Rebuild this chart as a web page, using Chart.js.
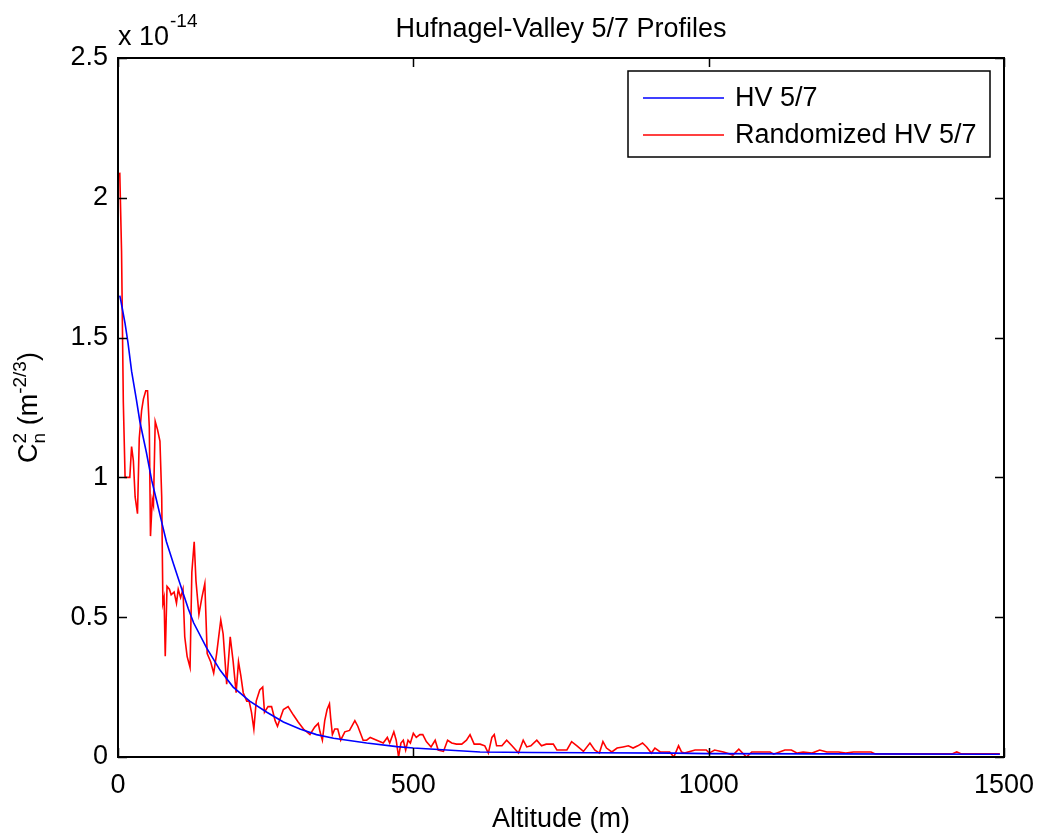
<!DOCTYPE html>
<html>
<head>
<meta charset="utf-8">
<script src="https://cdn.jsdelivr.net/npm/chart.js@4.4.1/dist/chart.umd.min.js"></script>
<style>
  html, body { margin:0; padding:0; background:#fff; }
  #wrap { width:1037px; height:833px; }
</style>
</head>
<body>
<div id="wrap"><canvas id="hvChart"></canvas></div>
<script>
// values, Cn2 in units of 1e-14 m^-2/3
const titleText = 'Hufnagel-Valley 5/7 Profiles';
const seriesNames = ['HV 5/7', 'Randomized HV 5/7'];
const seriesColors = ['#0000ff', '#ff0000'];

const altBlue = [3, 5, 12, 17, 23, 31, 37, 48, 57, 65, 74, 82, 94, 105, 119, 128, 150, 173, 195, 223,
  252, 280, 308, 336, 365, 421, 472, 500, 613, 700, 800, 940, 1000, 1200, 1493];
const cn2Blue = [1.65, 1.63, 1.55, 1.48, 1.38, 1.28, 1.2, 1.09, 0.99, 0.92, 0.84, 0.77, 0.69, 0.62, 0.53, 0.48, 0.39, 0.31, 0.25, 0.2,
  0.16, 0.125, 0.1, 0.08, 0.067, 0.05, 0.037, 0.032, 0.018, 0.016, 0.015, 0.014, 0.012, 0.011, 0.01];

const altRed = [3, 6, 9, 12, 16, 20, 23, 26, 29, 33, 36, 40, 43, 47, 50, 53, 55, 58, 60, 63,
  67, 71, 74, 76, 78, 80, 83, 87, 90, 95, 99, 102, 106, 110, 113, 117, 122, 125, 129, 132,
  137, 142, 147, 151, 157, 162, 167, 174, 178, 184, 190, 195, 200, 204, 208, 212, 218, 222, 226, 230,
  234, 240, 245, 248, 254, 260, 266, 270, 280, 288, 297, 305, 314, 325, 333, 339, 342, 346, 350, 354,
  358, 360, 363, 367, 372, 377, 384, 392, 401, 406, 415, 421, 427, 438, 449, 456, 460, 467, 471, 475,
  479, 483, 487, 491, 495, 500, 505, 511, 516, 522, 530, 537, 542, 551, 558, 565, 573, 582, 590, 596,
  603, 613, 621, 627, 633, 637, 641, 650, 658, 667, 678, 686, 692, 699, 709, 717, 725, 737, 743, 760,
  768, 777, 788, 799, 807, 815, 821, 827, 836, 845, 855, 864, 872, 880, 888, 895, 903, 909, 918, 934,
  941, 949, 954, 959, 977, 996, 1001, 1010, 1025, 1041, 1051, 1064, 1073, 1104, 1110, 1120, 1129, 1140, 1150, 1160,
  1175, 1188, 1200, 1220, 1232, 1245, 1275, 1282, 1320, 1360, 1400, 1412, 1420, 1428, 1460, 1493];
const cn2Red = [2.09, 1.81, 1.27, 1.0, 1.0, 1.0, 1.11, 1.06, 0.93, 0.87, 1.14, 1.24, 1.28, 1.31, 1.31, 1.18, 0.79, 0.92, 0.9, 1.2,
  1.17, 1.13, 0.93, 0.55, 0.57, 0.36, 0.61, 0.6, 0.58, 0.59, 0.55, 0.6, 0.57, 0.6, 0.43, 0.36, 0.32, 0.66, 0.77, 0.63,
  0.51, 0.57, 0.62, 0.37, 0.34, 0.3, 0.37, 0.49, 0.44, 0.26, 0.43, 0.34, 0.23, 0.34, 0.29, 0.23, 0.2, 0.2, 0.16, 0.1,
  0.2, 0.24, 0.25, 0.16, 0.18, 0.18, 0.13, 0.11, 0.17, 0.18, 0.15, 0.125, 0.1, 0.08, 0.107, 0.12, 0.09, 0.06, 0.13, 0.17,
  0.19, 0.14, 0.08, 0.1, 0.1, 0.06, 0.09, 0.095, 0.13, 0.11, 0.06, 0.06, 0.07, 0.06, 0.05, 0.07, 0.05, 0.09, 0.06, 0.0,
  0.05, 0.06, 0.025, 0.06, 0.05, 0.085, 0.07, 0.08, 0.08, 0.055, 0.036, 0.06, 0.025, 0.02, 0.06, 0.05, 0.046, 0.046, 0.06, 0.08,
  0.046, 0.046, 0.04, 0.014, 0.07, 0.08, 0.04, 0.04, 0.06, 0.04, 0.014, 0.06, 0.036, 0.04, 0.06, 0.04, 0.046, 0.046, 0.025, 0.025,
  0.055, 0.04, 0.02, 0.05, 0.025, 0.014, 0.055, 0.032, 0.018, 0.032, 0.036, 0.04, 0.032, 0.04, 0.05, 0.036, 0.014, 0.032, 0.018, 0.018,
  0.0, 0.04, 0.018, 0.014, 0.025, 0.025, 0.014, 0.025, 0.018, 0.007, 0.028, 0.0, 0.018, 0.018, 0.01, 0.018, 0.025, 0.025, 0.014, 0.018,
  0.014, 0.025, 0.018, 0.018, 0.014, 0.018, 0.018, 0.011, 0.011, 0.011, 0.011, 0.011, 0.018, 0.011, 0.011, 0.011];

const xTicks = [0, 500, 1000, 1500];
const yTicks = [0, 0.5, 1, 1.5, 2, 2.5];
const yExponent = '-14';

const FONT = 'Liberation Sans, Arial, sans-serif';
const FS = 27;

function pts(xs, ys){ return xs.map((x,i) => ({x, y: ys[i]})); }

// frame, inward ticks, title, exponent, y label, legend
const matlabAxes = {
  id: 'matlabAxes',
  afterDraw(chart){
    const ctx = chart.ctx, a = chart.chartArea;
    const xs = chart.scales.x, ys = chart.scales.y;
    const tl = 9;
    ctx.save();
    ctx.strokeStyle = '#000';
    ctx.lineWidth = 1.5;
    ctx.beginPath();
    xTicks.forEach(v => {
      const p = Math.round(xs.getPixelForValue(v)) + 0.5;
      ctx.moveTo(p, a.bottom); ctx.lineTo(p, a.bottom - tl);
      ctx.moveTo(p, a.top); ctx.lineTo(p, a.top + tl);
    });
    yTicks.forEach(v => {
      const p = Math.round(ys.getPixelForValue(v)) + 0.5;
      ctx.moveTo(a.left, p); ctx.lineTo(a.left + tl, p);
      ctx.moveTo(a.right, p); ctx.lineTo(a.right - tl, p);
    });
    ctx.stroke();
    ctx.lineWidth = 2;
    ctx.strokeRect(a.left, a.top, a.right - a.left, a.bottom - a.top);

    ctx.fillStyle = '#000';
    // title
    ctx.font = FS + 'px ' + FONT;
    ctx.textAlign = 'center';
    ctx.textBaseline = 'alphabetic';
    ctx.fillText(titleText, (a.left + a.right) / 2, 37);
    // x 10^-14
    ctx.textAlign = 'left';
    ctx.fillText('x 10', a.left, 45);
    const w10 = ctx.measureText('x 10').width;
    ctx.font = '19px ' + FONT;
    ctx.fillText(yExponent, a.left + w10 + 1, 27);
    // x axis title
    ctx.font = FS + 'px ' + FONT;
    ctx.textAlign = 'center';
    ctx.fillText('Altitude (m)', (a.left + a.right) / 2, 827);

    // y axis title, rotated: C^2_n (m^-2/3)
    ctx.save();
    ctx.translate(37, (a.top + a.bottom) / 2);
    ctx.rotate(-Math.PI / 2);
    ctx.textAlign = 'left';
    const parts = [
      {t:'C', size:FS, dy:0},
      {t:'2', size:19, dy:-11, stack:true},
      {t:'n', size:19, dy:8},
      {t:' (m', size:FS, dy:0},
      {t:'-2/3', size:19, dy:-11},
      {t:')', size:FS, dy:0}
    ];
    let total = 0;
    parts.forEach(p => { ctx.font = p.size + 'px ' + FONT; p.w = ctx.measureText(p.t).width; if(!p.stack) total += p.w; });
    let cx = -total / 2;
    parts.forEach(p => {
      ctx.font = p.size + 'px ' + FONT;
      ctx.fillText(p.t, cx, p.dy);
      if(!p.stack) cx += p.w;
    });
    ctx.restore();

    // legend box
    const lx = 628, ly = 71, lw = 362, lh = 86;
    ctx.fillStyle = '#fff';
    ctx.fillRect(lx, ly, lw, lh);
    ctx.lineWidth = 1.5;
    ctx.strokeRect(lx, ly, lw, lh);
    ctx.font = FS + 'px ' + FONT;
    ctx.textAlign = 'left';
    ctx.textBaseline = 'middle';
    chart.data.datasets.forEach((ds, i) => {
      const yy = 98 + i * 37;
      ctx.strokeStyle = ds.borderColor;
      ctx.lineWidth = 1.5;
      ctx.beginPath(); ctx.moveTo(643, yy); ctx.lineTo(724, yy); ctx.stroke();
      ctx.fillStyle = '#000';
      ctx.fillText(ds.label, 735, yy + 1);
    });
    ctx.restore();
  }
};

new Chart(document.getElementById('hvChart'), {
  type: 'line',
  data: {
    datasets: [
      {label: seriesNames[0], data: pts(altBlue, cn2Blue), borderColor: seriesColors[0], borderWidth: 1.6, pointRadius: 0, tension: 0},
      {label: seriesNames[1], data: pts(altRed, cn2Red), borderColor: seriesColors[1], borderWidth: 1.6, pointRadius: 0, tension: 0}
    ]
  },
  options: {
    responsive: true,
    maintainAspectRatio: false,
    animation: false,
    layout: {padding: {top: 58, right: 33, left: 0, bottom: 0}},
    plugins: {legend: {display: false}, title: {display: false}, tooltip: {enabled: false}},
    scales: {
      x: {
        type: 'linear', min: 0, max: 1500,
        // keep the last tick label from shrinking the plot box
        afterFit: s => { s.height = 76; s.paddingLeft = 0; s.paddingRight = 0; },
        afterBuildTicks: s => { s.ticks = xTicks.map(v => ({value: v})); },
        grid: {display: false, drawTicks: false},
        border: {display: false},
        ticks: {color: '#000', font: {family: FONT, size: FS}, padding: 12, maxRotation: 0, callback: v => String(v)}
      },
      y: {
        type: 'linear', min: 0, max: 2.5,
        afterFit: s => { s.width = 118; s.paddingTop = 0; s.paddingBottom = 0; },
        afterBuildTicks: s => { s.ticks = yTicks.map(v => ({value: v})); },
        grid: {display: false, drawTicks: false},
        border: {display: false},
        ticks: {color: '#000', font: {family: FONT, size: FS}, padding: 10, callback: v => String(v)}
      }
    }
  },
  plugins: [matlabAxes]
});
</script>
</body>
</html>
